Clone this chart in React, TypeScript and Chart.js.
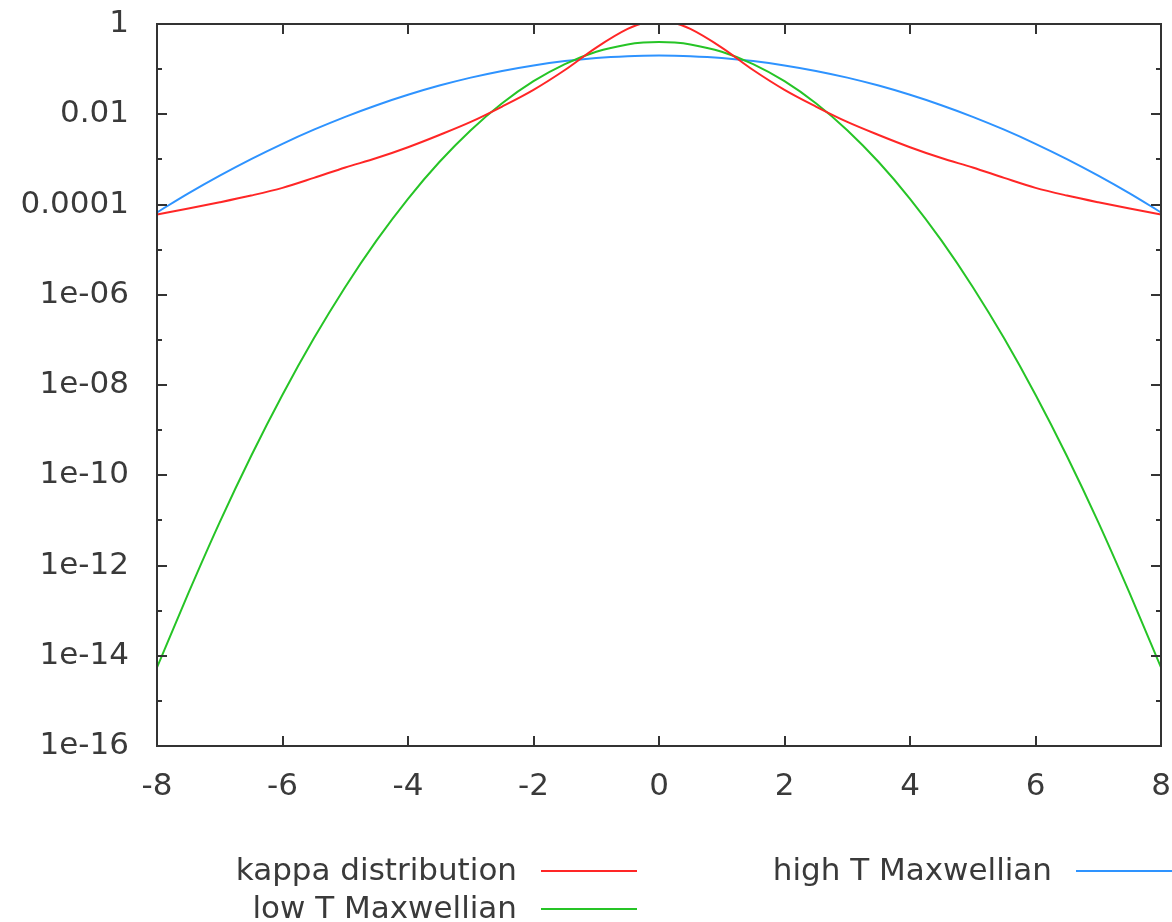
import React, { useEffect, useRef } from 'react';
import { Chart, registerables } from 'chart.js';

Chart.register(...registerables);

// ---- data ----
const X_VALUES = [
  -8, -7.5, -7, -6.5, -6, -5.5, -5, -4.5, -4, -3.5, -3, -2.5, -2, -1.5, -1, -0.5, -0.25,
  0, 0.25, 0.5, 1, 1.5, 2, 2.5, 3, 3.5, 4, 4.5, 5, 5.5, 6, 6.5, 7, 7.5, 8,
];

const KAPPA = [
  6.03e-5, 8.13e-5, 1.12e-4, 1.58e-4, 2.34e-4, 3.89e-4, 6.61e-4, 1.07e-3, 1.86e-3, 3.47e-3,
  6.76e-3, 1.48e-2, 3.47e-2, 9.55e-2, 0.3, 0.776, 1.05,
  1.17,
  1.05, 0.776, 0.3, 9.55e-2, 3.47e-2, 1.48e-2, 6.76e-3, 3.47e-3, 1.86e-3, 1.07e-3, 6.61e-4,
  3.89e-4, 2.34e-4, 1.58e-4, 1.12e-4, 8.13e-5, 6.03e-5,
];

const LOW_T = [
  5.5e-15, 2.43e-13, 9.13e-12, 2.67e-10, 6.08e-9, 1.08e-7, 1.49e-6, 1.6e-5, 1.34e-4, 8.73e-4,
  4.43e-3, 1.75e-2, 5.4e-2, 0.1295, 0.242, 0.352, 0.387,
  0.399,
  0.387, 0.352, 0.242, 0.1295, 5.4e-2, 1.75e-2, 4.43e-3, 8.73e-4, 1.34e-4, 1.6e-5, 1.49e-6,
  1.08e-7, 6.08e-9, 2.67e-10, 9.13e-12, 2.43e-13, 5.5e-15,
];

const HIGH_T = [
  6.69e-5, 1.763e-4, 4.36e-4, 1.015e-3, 2.216e-3, 4.547e-3, 8.77e-3, 1.587e-2, 2.7e-2, 4.32e-2,
  6.48e-2, 9.13e-2, 0.121, 0.1506, 0.1761, 0.1934, 0.198,
  0.1995,
  0.198, 0.1934, 0.1761, 0.1506, 0.121, 9.13e-2, 6.48e-2, 4.32e-2, 2.7e-2, 1.587e-2, 8.77e-3,
  4.547e-3, 2.216e-3, 1.015e-3, 4.36e-4, 1.763e-4, 6.69e-5,
];

const SERIES_LABELS = ['kappa distribution', 'low T Maxwellian', 'high T Maxwellian'];
const SERIES_COLORS = ['#ff2626', '#26c426', '#2e93ff'];

const X_TICKS = [-8, -6, -4, -2, 0, 2, 4, 6, 8];
const X_TICK_LABELS = ['-8', '-6', '-4', '-2', '0', '2', '4', '6', '8'];
const Y_TICKS = [1, 1e-2, 1e-4, 1e-6, 1e-8, 1e-10, 1e-12, 1e-14, 1e-16];
const Y_TICK_LABELS = ['1', '0.01', '0.0001', '1e-06', '1e-08', '1e-10', '1e-12', '1e-14', '1e-16'];
const Y_MINOR_TICKS = [1e-1, 1e-3, 1e-5, 1e-7, 1e-9, 1e-11, 1e-13, 1e-15];

// ---- style ----
const FONT_FAMILY = '"DejaVu Sans", sans-serif';
const FONT_SIZE = 31;
const TEXT_COLOR = '#3a3a3a';
const AXIS_COLOR = '#333333';

const framePlugin = {
  id: 'gnuplotFrame',
  afterDatasetsDraw(chart: any) {
    const { ctx, chartArea: a, scales } = chart;
    const xs = scales.x;
    const ys = scales.y;
    ctx.save();
    ctx.strokeStyle = AXIS_COLOR;
    ctx.lineWidth = 2;
    ctx.beginPath();
    for (const v of X_TICKS) {
      const px = Math.round(xs.getPixelForValue(v));
      ctx.moveTo(px, a.bottom);
      ctx.lineTo(px, a.bottom - 10);
      ctx.moveTo(px, a.top);
      ctx.lineTo(px, a.top + 10);
    }
    for (const v of Y_TICKS) {
      const py = Math.round(ys.getPixelForValue(v));
      ctx.moveTo(a.left, py);
      ctx.lineTo(a.left + 10, py);
      ctx.moveTo(a.right, py);
      ctx.lineTo(a.right - 10, py);
    }
    for (const v of Y_MINOR_TICKS) {
      const py = Math.round(ys.getPixelForValue(v));
      ctx.moveTo(a.left, py);
      ctx.lineTo(a.left + 5, py);
      ctx.moveTo(a.right, py);
      ctx.lineTo(a.right - 5, py);
    }
    ctx.stroke();
    ctx.strokeRect(a.left, a.top, a.right - a.left, a.bottom - a.top);
    ctx.restore();
  },
};

const LEGEND_COL_X = [541, 1076];
const LEGEND_ROW_Y = [871, 909];
const LEGEND_LINE_LEN = 96;
const LEGEND_GAP = 24;

const legendPlugin = {
  id: 'gnuplotLegend',
  afterDraw(chart: any) {
    const ctx = chart.ctx;
    ctx.save();
    ctx.font = `${FONT_SIZE}px ${FONT_FAMILY}`;
    ctx.textAlign = 'right';
    ctx.textBaseline = 'alphabetic';
    chart.data.datasets.forEach((ds: any, i: number) => {
      const col = Math.floor(i / 2);
      const row = i % 2;
      const lx = LEGEND_COL_X[col];
      const ly = LEGEND_ROW_Y[row];
      ctx.fillStyle = TEXT_COLOR;
      ctx.fillText(ds.label, lx - LEGEND_GAP, ly + 9);
      ctx.strokeStyle = ds.borderColor;
      ctx.lineWidth = 2;
      ctx.beginPath();
      ctx.moveTo(lx, ly);
      ctx.lineTo(lx + LEGEND_LINE_LEN, ly);
      ctx.stroke();
    });
    ctx.restore();
  },
};

export default function App() {
  const canvasRef = useRef<HTMLCanvasElement | null>(null);

  useEffect(() => {
    const canvas = canvasRef.current;
    if (!canvas) return;
    const series = [KAPPA, LOW_T, HIGH_T];
    const chart = new Chart(canvas, {
      type: 'line',
      data: {
        datasets: series.map((vals, i) => ({
          label: SERIES_LABELS[i],
          data: X_VALUES.map((x, j) => ({ x, y: vals[j] })),
          borderColor: SERIES_COLORS[i],
          backgroundColor: SERIES_COLORS[i],
          borderWidth: 2,
          pointRadius: 0,
          fill: false,
          cubicInterpolationMode: 'monotone',
          clip: 0,
        })),
      },
      options: {
        responsive: false,
        animation: false,
        parsing: false,
        layout: { padding: { left: 0, right: 11, top: 24, bottom: 116 } },
        plugins: {
          legend: { display: false },
          tooltip: { enabled: false },
        },
        scales: {
          x: {
            type: 'linear',
            min: -8,
            max: 8,
            grid: { display: false, drawTicks: false },
            border: { display: false },
            afterBuildTicks: (s: any) => {
              s.ticks = X_TICKS.map((v) => ({ value: v }));
            },
            afterFit: (s: any) => {
              s.height = 60;
              s.paddingLeft = 0;
              s.paddingRight = 0;
            },
            ticks: {
              autoSkip: false,
              maxRotation: 0,
              padding: 22,
              color: TEXT_COLOR,
              font: { family: FONT_FAMILY, size: FONT_SIZE },
              callback: (_v: any, i: number) => X_TICK_LABELS[i],
            },
          },
          y: {
            type: 'logarithmic',
            min: 1e-16,
            max: 1,
            grid: { display: false, drawTicks: false },
            border: { display: false },
            afterBuildTicks: (s: any) => {
              s.ticks = Y_TICKS.map((v) => ({ value: v }));
            },
            afterFit: (s: any) => {
              s.width = 157;
              s.paddingTop = 0;
              s.paddingBottom = 0;
            },
            ticks: {
              autoSkip: false,
              padding: 28,
              color: TEXT_COLOR,
              font: { family: FONT_FAMILY, size: FONT_SIZE },
              callback: (_v: any, i: number) => Y_TICK_LABELS[i],
            },
          },
        },
      } as any,
      plugins: [framePlugin, legendPlugin],
    });
    return () => chart.destroy();
  }, []);

  return (
    <div style={{ position: 'absolute', left: 0, top: 0, width: 1172, height: 922, background: '#fff' }}>
      <canvas ref={canvasRef} width={1172} height={922} style={{ display: 'block' }} />
    </div>
  );
}
